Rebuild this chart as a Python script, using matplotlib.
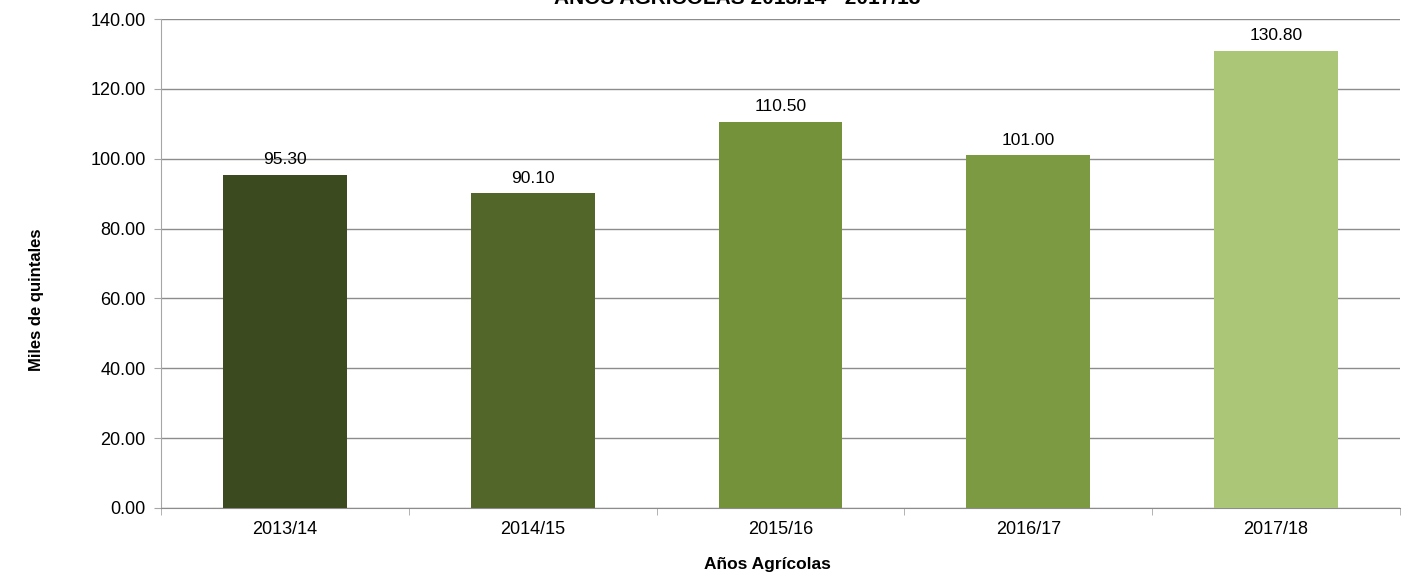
import matplotlib.pyplot as plt
import numpy as np

plt.rcParams['font.family'] = ['Liberation Sans', 'DejaVu Sans']

# datos
anios = ['2013/14', '2014/15', '2015/16', '2016/17', '2017/18']
valores = [95.30, 90.10, 110.50, 101.00, 130.80]
colores = ['#3C4A1F', '#536629', '#74923A', '#7B9A41', '#ABC676']

fig = plt.figure(figsize=(14.11, 5.77), dpi=100)
ax = fig.add_axes([161/1411, 1 - 508/577, (1400-161)/1411, (508-19)/577])

x = np.arange(len(anios))
bars = ax.bar(x, valores, width=0.5, color=colores, zorder=3)

for b, v in zip(bars, valores):
    ax.text(b.get_x() + b.get_width()/2, v + 2.2, f'{v:.2f}',
            ha='center', va='bottom', fontsize=12.5, color='#000000')

ax.set_xlim(-0.5, len(anios) - 0.5)
ax.set_ylim(0, 140)
ax.set_yticks(np.arange(0, 141, 20))
ax.set_yticklabels([f'{t:.2f}' for t in np.arange(0, 141, 20)], fontsize=13)
ax.set_xticks(x)
ax.set_xticklabels(anios, fontsize=13)
ax.set_xticks(np.arange(-0.5, len(anios), 1), minor=True)

ax.yaxis.grid(True, color='#8C8C8C', linewidth=1, zorder=0)
ax.tick_params(axis='x', which='major', length=0, pad=9)
ax.tick_params(axis='x', which='minor', length=5, color='#A6A6A6')
ax.tick_params(axis='y', length=5, color='#A6A6A6', pad=6)

for s in ['top', 'right']:
    ax.spines[s].set_visible(False)
ax.spines['left'].set_color('#A6A6A6')
ax.spines['bottom'].set_color('#8C8C8C')

fig.text(37/1411, 1 - 300/577, 'Miles de quintales', rotation=90,
         ha='center', va='center', fontsize=12, fontweight='bold')
fig.text(767/1411, 1 - 565/577, 'Años Agrícolas', ha='center', va='center',
         fontsize=12.5, fontweight='bold')
fig.text(737/1411, 1 + 2/577, 'AÑOS AGRICOLAS 2013/14 - 2017/18',
         ha='center', va='center', fontsize=15, fontweight='bold')

fig.savefig('out.png', dpi=100)
